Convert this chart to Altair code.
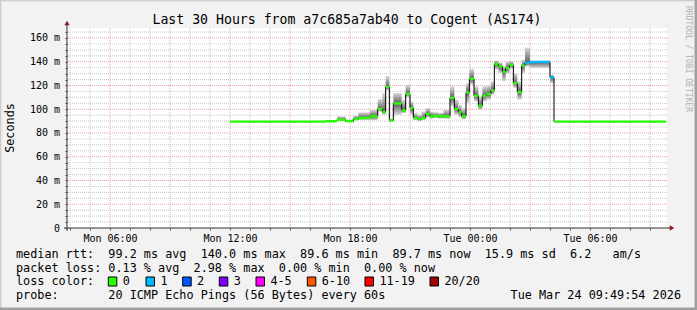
import altair as alt
import pandas as pd

FONT = "DejaVu Sans Mono"

# ---------------- data ----------------
step_start = [
    "2026-03-23T12:00", "2026-03-23T16:45", "2026-03-23T17:21", "2026-03-23T17:47",
    "2026-03-23T18:10", "2026-03-23T18:25", "2026-03-23T19:00", "2026-03-23T19:23",
    "2026-03-23T19:37", "2026-03-23T19:47", "2026-03-23T19:58", "2026-03-23T20:10",
    "2026-03-23T20:35", "2026-03-23T20:47", "2026-03-23T21:00", "2026-03-23T21:10",
    "2026-03-23T21:23", "2026-03-23T21:35", "2026-03-23T21:47", "2026-03-23T22:00",
    "2026-03-23T22:10", "2026-03-23T22:25", "2026-03-23T22:40", "2026-03-23T23:00",
    "2026-03-23T23:13", "2026-03-23T23:25", "2026-03-23T23:35", "2026-03-23T23:48",
    "2026-03-23T23:58", "2026-03-24T00:12", "2026-03-24T00:25", "2026-03-24T00:37",
    "2026-03-24T00:50", "2026-03-24T01:03", "2026-03-24T01:13", "2026-03-24T01:25",
    "2026-03-24T01:37", "2026-03-24T01:47", "2026-03-24T01:58", "2026-03-24T02:10",
    "2026-03-24T02:22", "2026-03-24T02:35", "2026-03-24T02:45", "2026-03-24T03:00",
    "2026-03-24T04:00", "2026-03-24T04:12",
]
series_end = "2026-03-24T09:48"

median_ms = [
    89.6, 89.9, 91.2, 89.9, 91.8, 92.6, 94.0, 100.2, 97.7, 118.7, 90.6, 104.9,
    99.0, 112.8, 101.0, 92.6, 91.8, 92.6, 96.0, 94.0, 94.4, 94.0, 94.0, 109.5,
    100.2, 97.4, 94.0, 114.2, 125.7, 111.4, 103.0, 111.4, 112.8, 115.9, 138.0, 136.0,
    131.4, 134.7, 137.3, 122.0, 114.5, 136.7, 139.0, 139.8, 126.8, 89.6,
]
smoke_lo = [
    89.3, 89.5, 90.2, 89.4, 90.5, 91.0, 90.6, 98.0, 95.4, 116.0, 89.5, 95.0,
    96.8, 110.3, 95.4, 91.0, 90.0, 91.0, 93.0, 92.0, 92.5, 92.0, 92.0, 102.4,
    95.4, 93.5, 91.5, 105.3, 120.7, 106.6, 99.6, 106.6, 108.0, 112.3, 133.3, 130.5,
    123.5, 130.0, 134.0, 117.9, 108.0, 130.5, 136.0, 134.7, 122.0, 89.3,
]
smoke_hi = [
    90.0, 90.8, 94.0, 91.5, 94.6, 97.4, 99.6, 108.6, 113.7, 128.0, 92.0, 113.7,
    108.0, 120.7, 106.6, 96.8, 95.4, 98.2, 101.0, 98.2, 97.5, 97.0, 99.6, 119.3,
    108.0, 103.8, 101.0, 122.0, 133.9, 119.3, 110.8, 119.3, 119.8, 123.5, 141.1, 139.4,
    136.1, 140.0, 140.5, 130.5, 123.5, 141.7, 152.0, 141.0, 129.0, 90.0,
]
loss_class = ["0"] * 42 + ["1", "1", "1", "0"]

loss_labels = ["0", "1", "2", "3", "4-5", "6-10", "11-19", "20/20"]
loss_colors = ["#26ff00", "#00b8ff", "#0059ff", "#7e00ff", "#ff00ff", "#ff5500", "#ff0000", "#a10000"]

title_text = "Last 30 Hours from a7c685a7ab40 to Cogent (AS174)"
legend_lines = [
    "median rtt:  99.2 ms avg  140.0 ms max  89.6 ms min  89.7 ms now  15.9 ms sd  6.2   am/s",
    "packet loss: 0.13 % avg  2.98 % max  0.00 % min  0.00 % now",
    "loss color:",
    "probe:       20 ICMP Echo Pings (56 Bytes) every 60s",
]
stamp_text = "Tue Mar 24 09:49:54 2026"

# ---------------- tables ----------------
steps = pd.DataFrame({
    "start": step_start,
    "end": step_start[1:] + [series_end],
    "median": median_ms,
    "lo": smoke_lo,
    "hi": smoke_hi,
    "loss": loss_class,
})
line_df = pd.DataFrame({"t": step_start + [series_end], "median": median_ms + [median_ms[-1]]})

hour_list = []
for h in range(4, 34):
    d, hh = divmod(h, 24)
    hour_list.append(f"2026-03-{23 + d:02d}T{hh:02d}:00")
vgrid = pd.DataFrame({"t": hour_list, "major": [int(s[11:13]) % 3 == 0 for s in hour_list]})
hgrid = pd.DataFrame({"v": list(range(5, 170, 5))})
hgrid["major"] = hgrid["v"] % 20 == 0

one = pd.DataFrame({"a": [0]})

# ---------------- scales / axes ----------------
W, H = 600, 200
x_scale = alt.Scale(domain=[alt.DateTime(year=2026, month=3, date=23, hours=3, minutes=51),
                            alt.DateTime(year=2026, month=3, date=24, hours=9, minutes=51)])
y_scale = alt.Scale(domain=[0, 168.4], nice=False, zero=True)

x_tick_values = []
for h in range(4, 34):
    d, hh = divmod(h, 24)
    x_tick_values.append(alt.DateTime(year=2026, month=3, date=23 + d, hours=hh))

x_axis = alt.Axis(values=x_tick_values, grid=False, domain=False, ticks=True, tickSize=2,
                  tickColor="#555555", labelExpr="hours(datum.value) % 6 == 0 ? timeFormat(datum.value, '%a %H:%M') : ''",
                  labelFont=FONT, labelFontSize=10, labelColor="#000000", labelPadding=11,
                  labelBaseline="alphabetic", labelOverlap=False, labelFlush=False, labelBound=False, title=None)
y_axis = alt.Axis(values=list(range(0, 170, 5)), grid=False, domain=False, ticks=True, tickSize=2,
                  tickColor="#555555",
                  labelExpr="datum.value % 20 == 0 ? (datum.value == 0 ? '0' : datum.value + ' m') : ''",
                  labelFont=FONT, labelFontSize=10, labelColor="#000000", labelPadding=5.5,
                  labelBaseline="middle", labelOverlap=False, labelFlush=False, labelBound=False, title=None)

X = lambda f: alt.X(f, type="temporal", scale=x_scale, axis=x_axis)
Y = lambda f: alt.Y(f, type="quantitative", scale=y_scale, axis=y_axis)

# ---------------- grid ----------------
vminor = alt.Chart(vgrid).transform_filter("!datum.major").mark_rule(
    color="#c8c8c8", strokeWidth=1, strokeDash=[1, 1]).encode(x=X("t"))
vmajor = alt.Chart(vgrid).transform_filter("datum.major").mark_rule(
    color="#e8a0a0", strokeWidth=1, strokeDash=[1, 1]).encode(x=X("t"))
hminor = alt.Chart(hgrid).transform_filter("!datum.major").mark_rule(
    color="#c8c8c8", strokeWidth=1, strokeDash=[1, 1]).encode(y=Y("v"))
hmajor = alt.Chart(hgrid).transform_filter("datum.major").mark_rule(
    color="#e8a0a0", strokeWidth=1, strokeDash=[1, 1]).encode(y=Y("v"))

# ---------------- smoke ----------------
grad_up = alt.LinearGradient(gradient="linear", x1=0, x2=0, y1=0, y2=1,
                             stops=[alt.GradientStop(color="#dadada", offset=0),
                                    alt.GradientStop(color="#5e5e5e", offset=1)])
grad_dn = alt.LinearGradient(gradient="linear", x1=0, x2=0, y1=0, y2=1,
                             stops=[alt.GradientStop(color="#5e5e5e", offset=0),
                                    alt.GradientStop(color="#dadada", offset=1)])
smoke_up = alt.Chart(steps).mark_rect(color=grad_up).encode(
    x=X("start"), x2="end", y=Y("hi"), y2="median")
smoke_dn = alt.Chart(steps).mark_rect(color=grad_dn).encode(
    x=X("start"), x2="end", y=Y("median"), y2="lo")

# ---------------- median ----------------
black_line = alt.Chart(line_df).mark_line(interpolate="step-after", color="#000000", strokeWidth=1).encode(
    x=X("t"), y=Y("median"))
colored = alt.Chart(steps).mark_rule(strokeWidth=2.4, strokeCap="butt").encode(
    x=X("start"), x2="end", y=Y("median"),
    color=alt.Color("loss:N", scale=alt.Scale(domain=loss_labels, range=loss_colors), legend=None))

# ---------------- axes lines & arrows ----------------
axis_col = "#303030"
x_line = alt.Chart(one).mark_rule(color=axis_col, strokeWidth=1).encode(
    x=alt.value(-3), x2=alt.value(W + 4), y=alt.value(H))
y_line = alt.Chart(one).mark_rule(color=axis_col, strokeWidth=1).encode(
    x=alt.value(0), y=alt.value(H + 3), y2=alt.value(-4))
x_arrow = alt.Chart(one).mark_point(shape="triangle-right", filled=True, color="#8b1a1a", size=28, opacity=1).encode(
    x=alt.value(W + 5), y=alt.value(H))
y_arrow = alt.Chart(one).mark_point(shape="triangle-up", filled=True, color="#8b1a1a", size=28, opacity=1).encode(
    x=alt.value(0), y=alt.value(-5))


def txt(s, x, y, size, align="left", baseline="alphabetic", angle=0, color="#000000"):
    return alt.Chart(one).mark_text(text=s.replace(" ", "\u00a0"), align=align, baseline=baseline,
                                    angle=angle, font=FONT, fontSize=size, color=color).encode(
        x=alt.value(x), y=alt.value(y))


texts = [
    txt(title_text, 280, -4, 13.2, align="center"),
    txt("Seconds", -57.5, 100, 11.8, align="center", baseline="middle", angle=270),
    txt("RRDTOOL / TOBI OETIKER", 620.7, 31, 8, align="center", baseline="middle", angle=90, color="#b0b0b0"),
    txt(stamp_text, 614, 271.3, 11.8, align="right"),
]
legend_y = [230.3, 243.7, 257.3, 271.3]
for line, yy in zip(legend_lines, legend_y):
    texts.append(txt(line, -51, yy, 11.8))

box_x = [41.3, 79, 115.7, 152.3, 189, 240.3, 298, 363]
legend_df = pd.DataFrame({"lab": loss_labels, "col": loss_colors, "bx": box_x})
legend_df["bx2"] = legend_df["bx"] + 8.5
legend_df["tx"] = legend_df["bx"] + 14.4
boxes = alt.Chart(legend_df).mark_rect(stroke="#000000", strokeWidth=1).encode(
    x=alt.X("bx:Q", scale=None, axis=None), x2="bx2:Q",
    y=alt.value(249), y2=alt.value(258),
    fill=alt.Fill("col:N", scale=None, legend=None))
box_labels = alt.Chart(legend_df).mark_text(align="left", baseline="alphabetic", font=FONT, fontSize=11.8,
                                            color="#000000").encode(
    x=alt.X("tx:Q", scale=None, axis=None), y=alt.value(257.3), text="lab:N")

# ---------------- frame ----------------
frame_top = alt.Chart(one).mark_rect(color="#cfcfcf").encode(
    x=alt.value(-67), x2=alt.value(630), y=alt.value(-28), y2=alt.value(-26.5))
frame_left = alt.Chart(one).mark_rect(color="#cfcfcf").encode(
    x=alt.value(-67), x2=alt.value(-65.5), y=alt.value(-28), y2=alt.value(282))
frame_bot = alt.Chart(one).mark_rect(color="#a0a0a0").encode(
    x=alt.value(-67), x2=alt.value(630), y=alt.value(279.5), y2=alt.value(282))
frame_right = alt.Chart(one).mark_rect(color="#a0a0a0").encode(
    x=alt.value(627.5), x2=alt.value(630), y=alt.value(-28), y2=alt.value(282))

chart = alt.layer(
    vminor, hminor, vmajor, hmajor,
    smoke_up, smoke_dn, black_line, colored,
    x_line, y_line, x_arrow, y_arrow,
    *texts, boxes, box_labels,
    frame_top, frame_left, frame_bot, frame_right,
).properties(
    width=W, height=H,
    autosize=alt.AutoSizeParams(type="none"),
    padding={"left": 67, "top": 28, "right": 30, "bottom": 82},
).configure(background="#f2f2f2").configure_view(fill="#ffffff", stroke=None)

chart.save("out.html", embed_options={"renderer": "svg", "actions": False})
